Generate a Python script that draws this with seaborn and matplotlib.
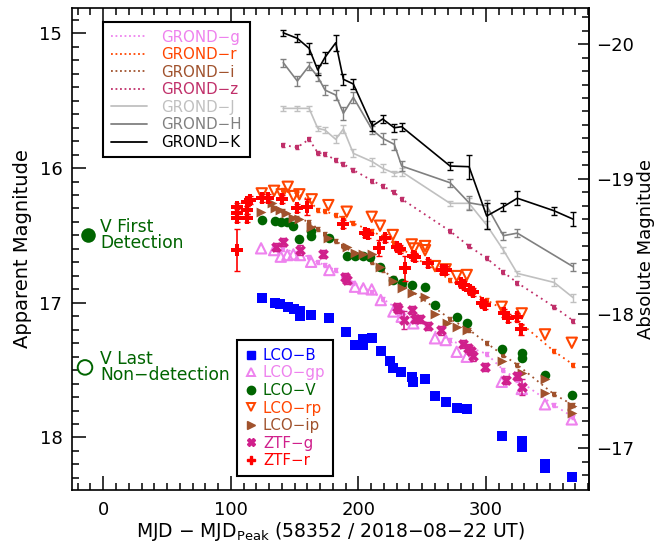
import matplotlib
matplotlib.use("Agg")
import matplotlib.pyplot as plt
from matplotlib.lines import Line2D
from matplotlib.ticker import MultipleLocator, FixedLocator
import seaborn as sns

# distance modulus linking apparent and absolute magnitude
DIST_MOD = 35.08

# ---------------- GROND (days since peak, magnitudes) ----------------
grond_t = [141.1, 152.1, 161.3, 168.1, 173.8, 182.2, 188.2, 196.0, 210.9, 219.0,
           228.1, 233.9, 271.8, 286.7, 300.5, 313.6, 324.5, 353.3, 368.4]
grond_g = [16.60, 16.63, 16.66, 16.70, 16.72, 16.76, 16.80, 16.85, 16.92, 16.97,
           17.03, 17.07, 17.28, 17.33, 17.38, 17.50, 17.57, 17.76, 17.85]
grond_r = [16.16, 16.19, 16.24, 16.31, 16.32, 16.35, 16.37, 16.41, 16.47, 16.51,
           16.56, 16.60, 16.83, 16.91, 16.98, 17.05, 17.13, 17.36, 17.46]
grond_i = [16.32, 16.37, 16.40, 16.45, 16.49, 16.54, 16.58, 16.63, 16.70, 16.76,
           16.82, 16.86, 17.12, 17.20, 17.30, 17.39, 17.46, 17.68, 17.76]
grond_z = [15.830, 15.846, 15.787, 15.886, 15.896, 15.941, 15.970, 16.015, 16.094, 16.134,
           16.180, 16.230, 16.468, 16.580, 16.670, 16.772, 16.852, 17.030, 17.134]
grond_J = [15.557, 15.557, 15.557, 15.705, 15.718, 15.787, 15.710, 15.891, 15.953, 16.002,
           16.039, 16.027, 16.262, 16.262, 16.423, 16.609, 16.782, 16.849, 16.963]
grond_J_err = [0.02, 0.02, 0.02, 0.02, 0.02, 0.03, 0.03, 0.03, 0.03, 0.03,
               0.02, 0.03, 0.02, 0.04, 0.03, 0.02, 0.02, 0.03, 0.03]
grond_H_t = [141.1, 152.1, 161.3, 168.1, 173.8, 182.2, 188.2, 196.0, 210.9, 219.0,
             228.1, 233.9, 271.8, 286.7, 300.5, 313.6, 324.5, 368.4]
grond_H = [15.218, 15.354, 15.241, 15.322, 15.421, 15.458, 15.594, 15.475, 15.718, 15.780,
           15.824, 15.985, 16.109, 16.258, 16.280, 16.502, 16.483, 16.733]
grond_H_err = [0.03, 0.04, 0.03, 0.03, 0.04, 0.04, 0.05, 0.04, 0.03, 0.04,
               0.04, 0.04, 0.03, 0.05, 0.04, 0.03, 0.03, 0.03]
grond_K = [14.996, 15.037, 15.111, 15.272, 15.178, 15.070, 15.341, 15.376, 15.688, 15.636,
           15.701, 15.693, 15.985, 15.990, 16.356, 16.287, 16.224, 16.317, 16.380]
grond_K_err = [0.02, 0.03, 0.04, 0.04, 0.04, 0.06, 0.04, 0.04, 0.04, 0.03,
               0.03, 0.03, 0.03, 0.09, 0.10, 0.03, 0.05, 0.03, 0.05]

# ---------------- LCO ----------------
lco_B_t = [124.7, 134.6, 138.6, 145.1, 149.8, 154.2, 154.2, 162.6, 177.2, 190.0,
           197.3, 203.8, 203.8, 210.4, 217.5, 224.8, 227.4, 233.2, 241.8, 243.0,
           252.2, 260.0, 268.4, 277.0, 284.9, 312.3, 328.0, 328.0, 346.2, 346.2, 367.2]
lco_B = [16.967, 17.004, 17.012, 17.030, 17.049, 17.060, 17.100, 17.091, 17.116, 17.215,
         17.314, 17.270, 17.310, 17.264, 17.356, 17.431, 17.487, 17.512, 17.549, 17.587,
         17.569, 17.693, 17.735, 17.780, 17.792, 17.990, 18.030, 18.070, 18.200, 18.230, 18.292]

lco_gp_t = [123.7, 133.9, 139.1, 144.3, 149.0, 154.2, 162.9, 177.2, 197.3, 203.8,
            210.4, 217.5, 227.4, 233.9, 243.0, 260.0, 268.4, 277.0, 284.9, 312.3,
            328.0, 346.2, 367.2]
lco_gp = [16.596, 16.609, 16.658, 16.646, 16.641, 16.646, 16.696, 16.757, 16.881, 16.893,
          16.901, 16.980, 17.065, 17.104, 17.153, 17.264, 17.277, 17.364, 17.401, 17.587,
          17.640, 17.754, 17.866]

lco_V_t = [124.2, 134.6, 139.1, 144.3, 149.0, 153.7, 162.9, 162.9, 177.2, 190.8,
           197.3, 203.8, 209.1, 216.9, 226.9, 233.9, 241.8, 252.2, 260.0, 277.0,
           284.9, 312.3, 328.0, 328.0, 346.2, 367.2]
lco_V = [16.386, 16.391, 16.403, 16.403, 16.431, 16.527, 16.468, 16.505, 16.522, 16.653,
         16.653, 16.651, 16.658, 16.733, 16.830, 16.851, 16.869, 16.886, 17.017, 17.104,
         17.153, 17.346, 17.371, 17.413, 17.540, 17.682]

lco_rp_t = [124.2, 133.9, 139.9, 144.6, 149.0, 153.7, 163.4, 176.4, 190.8, 210.4,
            216.9, 226.9, 241.8, 243.6, 252.2, 252.2, 260.0, 268.4, 277.0, 284.9,
            312.3, 328.0, 346.2, 367.2]
lco_rp = [16.188, 16.169, 16.195, 16.139, 16.208, 16.195, 16.232, 16.275, 16.324, 16.362,
          16.428, 16.497, 16.567, 16.597, 16.579, 16.610, 16.728, 16.752, 16.802, 16.794,
          17.030, 17.079, 17.235, 17.297]

lco_ip_t = [123.4, 132.1, 134.5, 138.6, 143.3, 149.0, 153.7, 162.9, 176.4, 190.8,
            197.3, 203.8, 210.4, 216.9, 226.9, 233.9, 241.8, 252.2, 260.0, 269.2,
            277.0, 284.9, 312.3, 328.0, 346.2, 346.2, 367.2, 367.2]
lco_ip = [16.324, 16.262, 16.300, 16.312, 16.336, 16.373, 16.381, 16.436, 16.522, 16.589,
          16.633, 16.640, 16.638, 16.733, 16.837, 16.893, 16.930, 16.955, 17.084, 17.153,
          17.178, 17.203, 17.433, 17.520, 17.569, 17.673, 17.767, 17.817]

# ---------------- ZTF ----------------
ztf_g_t = [135.4, 140.7, 154.2, 172.0, 189.5, 190.8, 230.0, 231.3, 235.7, 241.8,
           244.4, 248.3, 254.8, 264.5, 282.2, 286.1, 288.0, 290.0, 299.2, 315.4,
           324.5, 327.9]
ztf_g = [16.589, 16.547, 16.609, 16.640, 16.811, 16.830, 17.030, 17.045, 17.128, 17.054,
         17.124, 17.124, 17.170, 17.206, 17.304, 17.339, 17.360, 17.395, 17.475, 17.574,
         17.544, 17.628]
ztf_g_err = [0.03, 0.03, 0.04, 0.03, 0.03, 0.03, 0.03, 0.03, 0.07, 0.03,
             0.03, 0.03, 0.03, 0.03, 0.03, 0.03, 0.03, 0.04, 0.03, 0.03,
             0.03, 0.06]

ztf_r_t = [104.6, 104.6, 104.6, 104.6, 112.5, 112.5, 112.5, 115.0, 124.2, 129.4,
           139.9, 151.6, 159.9, 187.7, 205.2, 207.8, 216.1, 220.8, 230.5, 232.6,
           236.5, 243.0, 244.3, 254.8, 265.3, 268.7, 280.2, 282.8, 287.5, 290.0,
           296.6, 299.2, 314.1, 317.5, 324.5, 327.2]
ztf_r = [16.287, 16.336, 16.373, 16.609, 16.250, 16.312, 16.373, 16.237, 16.225, 16.225,
         16.232, 16.299, 16.287, 16.418, 16.480, 16.490, 16.596, 16.522, 16.589, 16.600,
         16.745, 16.653, 16.663, 16.708, 16.757, 16.757, 16.851, 16.869, 16.906, 16.918,
         17.004, 17.017, 17.079, 17.116, 17.104, 17.198]
ztf_r_err = [0.03, 0.03, 0.03, 0.155, 0.03, 0.03, 0.03, 0.03, 0.03, 0.03,
             0.03, 0.03, 0.06, 0.03, 0.03, 0.03, 0.06, 0.03, 0.03, 0.03,
             0.09, 0.03, 0.03, 0.03, 0.03, 0.03, 0.03, 0.03, 0.03, 0.03,
             0.03, 0.03, 0.03, 0.03, 0.03, 0.04]

# V-band detection limits before peak
v_first_t, v_first_m = [-11.6], [16.50]
v_last_t, v_last_m = [-14.3], [17.48]

# colours
C_G, C_R, C_I, C_Z = "#EE82EE", "#FF4500", "#A0522D", "#C0306A"
C_J, C_H, C_K = "#C0C0C0", "#808080", "#000000"
C_B, C_V, C_ZG, C_ZR = "#0000FF", "#006400", "#D0208C", "#FF0000"

sns.set_theme(style="white")
plt.rcParams["font.family"] = ["DejaVu Sans"]
plt.rcParams["axes.linewidth"] = 1.2
plt.rcParams["text.color"] = "black"
plt.rcParams["axes.labelcolor"] = "black"
plt.rcParams["xtick.color"] = "black"
plt.rcParams["ytick.color"] = "black"

fig = plt.figure(figsize=(6.71, 5.46), dpi=100)
ax = fig.add_axes([0.1073, 0.1026, 0.7705, 0.8827])

# GROND optical: dotted lines with small markers
for t, m, c in [(grond_t, grond_g, C_G), (grond_t, grond_r, C_R),
                (grond_t, grond_i, C_I), (grond_t, grond_z, C_Z)]:
    sns.lineplot(x=t, y=m, color=c, linestyle=(0, (1, 2.2)), linewidth=1.3,
                 marker="s", markersize=2.6, markeredgewidth=0, sort=False,
                 estimator=None, ax=ax, zorder=2)
    ax.errorbar(t, m, yerr=0.015, fmt="none", ecolor=c, elinewidth=0.8,
                capsize=1.5, zorder=2)

# GROND NIR: solid lines with error bars
for t, m, e, c in [(grond_t, grond_J, grond_J_err, C_J),
                   (grond_H_t, grond_H, grond_H_err, C_H),
                   (grond_t, grond_K, grond_K_err, C_K)]:
    sns.lineplot(x=t, y=m, color=c, linewidth=1.2, sort=False,
                 estimator=None, ax=ax, zorder=2)
    ax.errorbar(t, m, yerr=e, fmt="none", ecolor=c, elinewidth=1.0,
                capsize=2, capthick=1.0, zorder=2)

# LCO photometry
sns.scatterplot(x=lco_B_t, y=lco_B, marker="s", color=C_B, s=50,
                linewidth=0, ax=ax, zorder=4)
sns.scatterplot(x=lco_gp_t, y=lco_gp, marker="^", facecolor="none",
                edgecolor=C_G, s=55, linewidth=1.5, ax=ax, zorder=4)
sns.scatterplot(x=lco_V_t, y=lco_V, marker="o", color=C_V, s=48,
                linewidth=0, ax=ax, zorder=4)
sns.scatterplot(x=lco_rp_t, y=lco_rp, marker="v", facecolor="none",
                edgecolor=C_R, s=55, linewidth=1.5, ax=ax, zorder=4)
sns.scatterplot(x=lco_ip_t, y=lco_ip, marker=">", color=C_I, s=50,
                linewidth=0, ax=ax, zorder=4)

# ZTF photometry
ax.errorbar(ztf_g_t, ztf_g, yerr=ztf_g_err, fmt="none", ecolor=C_ZG,
            elinewidth=1.2, capsize=2, zorder=5)
sns.scatterplot(x=ztf_g_t, y=ztf_g, marker="X", color=C_ZG, s=60,
                linewidth=0, ax=ax, zorder=5)
ax.errorbar(ztf_r_t, ztf_r, yerr=ztf_r_err, fmt="none", ecolor=C_ZR,
            elinewidth=1.2, capsize=2, zorder=5)
sns.scatterplot(x=ztf_r_t, y=ztf_r, marker="P", color=C_ZR, s=70,
                linewidth=0, ax=ax, zorder=5)

# first detection / last non-detection
sns.scatterplot(x=v_first_t, y=v_first_m, marker="o", color=C_V, s=110,
                linewidth=0, ax=ax, zorder=5)
sns.scatterplot(x=v_last_t, y=v_last_m, marker="o", facecolor="none",
                edgecolor=C_V, s=110, linewidth=1.4, ax=ax, zorder=5)
ax.text(-2.5, v_first_m[0], "V First\nDetection", color=C_V, fontsize=12.3,
        ha="left", va="center", linespacing=0.85)
ax.text(-2.5, v_last_m[0], "V Last\nNon\u2212detection", color=C_V, fontsize=12.3,
        ha="left", va="center", linespacing=0.85)

# axes ranges and ticks
ax.set_xlim(-24.5, 380.7)
ax.set_ylim(18.39, 14.812)
ax.xaxis.set_major_locator(MultipleLocator(100))
ax.xaxis.set_minor_locator(MultipleLocator(10))
ax.yaxis.set_major_locator(MultipleLocator(1))
ax.yaxis.set_minor_locator(MultipleLocator(0.1))
ax.tick_params(axis="x", which="both", direction="in", top=True, bottom=True,
               labeltop=False, colors="black", labelsize=13, pad=8)
ax.tick_params(axis="y", which="both", direction="in", left=True, right=False,
               colors="black", labelsize=13, pad=7)
ax.tick_params(which="major", length=10, width=1.1)
ax.tick_params(which="minor", length=5, width=1.1)
for sp in ax.spines.values():
    sp.set_color("black")
    sp.set_linewidth(1.2)

ax.set_xlabel("MJD \u2212 MJD$_{\\mathregular{Peak}}$ (58352 / 2018\u221208\u221222 UT)",
              fontsize=13.5, labelpad=1)
ax.set_ylabel("Apparent Magnitude", fontsize=14, labelpad=5)

sec = ax.secondary_yaxis("right", functions=(lambda m: m - DIST_MOD,
                                             lambda a: a + DIST_MOD))
sec.yaxis.set_major_locator(FixedLocator([-20, -19, -18, -17]))
sec.yaxis.set_minor_locator(FixedLocator([v / 10 for v in range(-202, -167)]))
sec.tick_params(which="both", direction="in", colors="black", labelsize=13, pad=5)
sec.tick_params(which="major", length=8, width=1.1)
sec.tick_params(which="minor", length=5, width=1.1)
sec.spines["right"].set_linewidth(1.2)
sec.set_ylabel("Absolute Magnitude", fontsize=13, labelpad=2)

# GROND legend
g_labels = ["GROND\u2212g", "GROND\u2212r", "GROND\u2212i", "GROND\u2212z",
            "GROND\u2212J", "GROND\u2212H", "GROND\u2212K"]
g_colors = [C_G, C_R, C_I, C_Z, C_J, C_H, C_K]
g_styles = [(0, (1, 1.5))] * 4 + ["-"] * 3
g_handles = [Line2D([], [], color=c, linestyle=s, linewidth=1.3)
             for c, s in zip(g_colors, g_styles)]
leg1 = ax.legend(g_handles, g_labels, loc="upper left",
                 bbox_to_anchor=(0.060, 0.971), borderaxespad=0,
                 fontsize=10.8, frameon=True, fancybox=False, framealpha=1,
                 edgecolor="black", handlelength=2.4, handletextpad=1.0,
                 labelspacing=0.17, borderpad=0.5)
leg1.get_frame().set_linewidth(1.5)
for txt, c in zip(leg1.get_texts(), g_colors):
    txt.set_color(c)
ax.add_artist(leg1)

# LCO / ZTF legend
l_labels = ["LCO\u2212B", "LCO\u2212gp", "LCO\u2212V", "LCO\u2212rp", "LCO\u2212ip",
            "ZTF\u2212g", "ZTF\u2212r"]
l_colors = [C_B, C_G, C_V, C_R, C_I, C_ZG, C_ZR]
l_handles = [
    Line2D([], [], ls="", marker="s", color=C_B, markersize=6),
    Line2D([], [], ls="", marker="^", markerfacecolor="none", markeredgecolor=C_G,
           markeredgewidth=1.4, markersize=6),
    Line2D([], [], ls="", marker="o", color=C_V, markersize=6),
    Line2D([], [], ls="", marker="v", markerfacecolor="none", markeredgecolor=C_R,
           markeredgewidth=1.4, markersize=6),
    Line2D([], [], ls="", marker=">", color=C_I, markersize=6),
    Line2D([], [], ls="", marker="X", color=C_ZG, markersize=6),
    Line2D([], [], ls="", marker="P", color=C_ZR, markersize=6),
]
leg2 = ax.legend(l_handles, l_labels, loc="lower left",
                 bbox_to_anchor=(0.3186, 0.0297), borderaxespad=0,
                 fontsize=10.8, frameon=True, fancybox=False, framealpha=1,
                 edgecolor="black", handlelength=0.9, handletextpad=0.35,
                 labelspacing=0.17, borderpad=0.5)
leg2.get_frame().set_linewidth(1.5)
for txt, c in zip(leg2.get_texts(), l_colors):
    txt.set_color(c)

fig.savefig("out.png", dpi=100)
